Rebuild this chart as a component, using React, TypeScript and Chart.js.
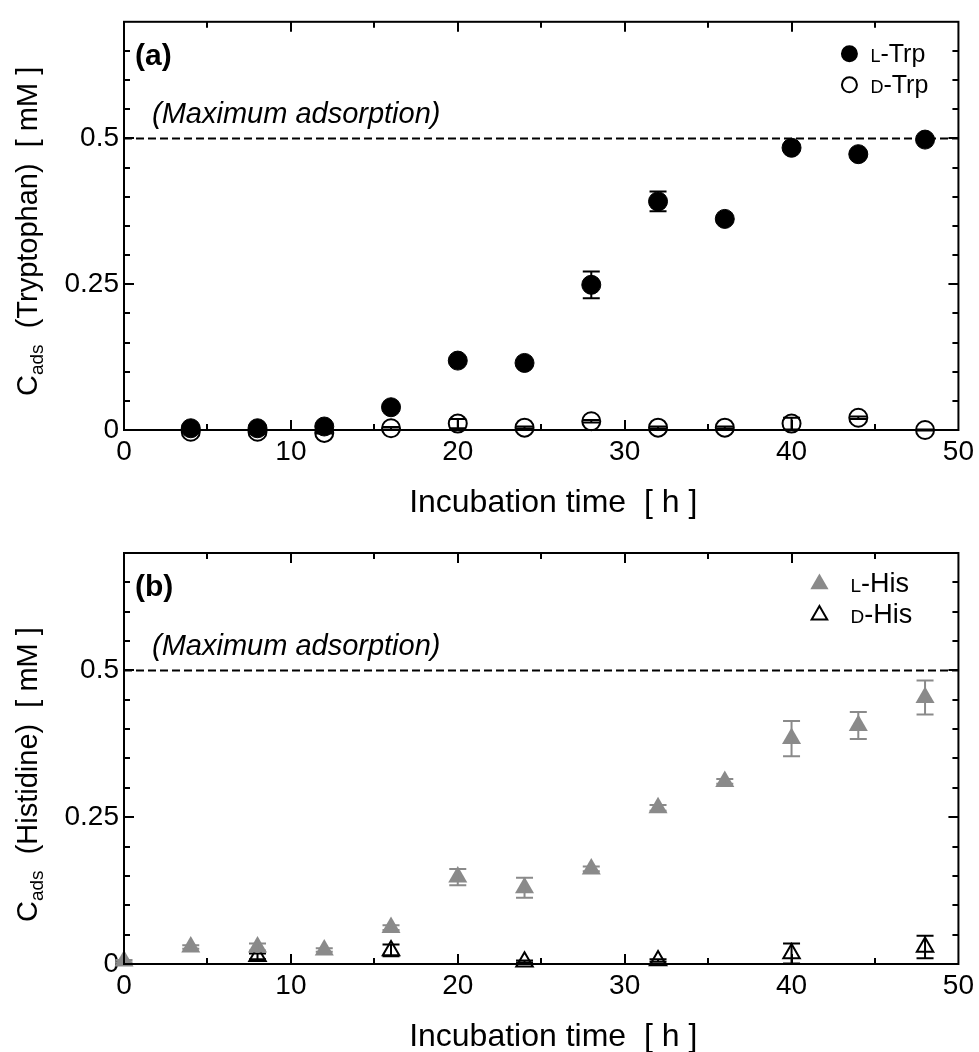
import React, { useEffect, useRef } from "react";
import { Chart, registerables } from "chart.js";

Chart.register(...registerables);

const FONT = '"Liberation Sans", Arial, Helvetica, sans-serif';
const W = 979;
const H = 526;

// ---------- Panel (a): Tryptophan ----------
const trpTime = [4, 8, 12, 16, 20, 24, 28, 32, 36, 40, 44, 48];
const lTrp = [0.003, 0.003, 0.006, 0.039, 0.119, 0.115, 0.249, 0.392, 0.362, 0.484, 0.473, 0.498];
const lTrpErr = [0.003, 0.003, 0.003, 0.004, 0.005, 0.005, 0.023, 0.017, 0.005, 0.006, 0.005, 0.004];
const dTrp = [-0.003, -0.003, -0.005, 0.003, 0.011, 0.004, 0.015, 0.004, 0.004, 0.011, 0.021, 0.0];
const dTrpErr = [0.001, 0.001, 0.001, 0.002, 0.008, 0.002, 0.002, 0.002, 0.002, 0.01, 0.002, 0.001];

// ---------- Panel (b): Histidine ----------
const lHisTime = [0, 4, 8, 12, 16, 20, 24, 28, 32, 36, 40, 44, 48];
const lHis = [0.005, 0.029, 0.029, 0.024, 0.062, 0.148, 0.13, 0.162, 0.266, 0.311, 0.384, 0.406, 0.454];
const lHisErr = [0.002, 0.003, 0.006, 0.003, 0.004, 0.014, 0.017, 0.004, 0.005, 0.004, 0.03, 0.023, 0.029];
const dHisTime = [8, 16, 24, 32, 40, 48];
const dHis = [0.013, 0.023, 0.004, 0.006, 0.018, 0.029];
const dHisErr = [0.005, 0.01, 0.002, 0.002, 0.017, 0.019];

// ---------- Axes ----------
const maxAdsorption = 0.5;
const xRange = [0, 50];
const yRange = [0, 0.7];
const xTickLabels = [0, 10, 20, 30, 40, 50];
const yTickLabels = [0, 0.25, 0.5];
const xMinorStep = 5;
const yMinorStep = 0.05;

const GREY = "#8a8a8a";

type LegendItem = {
  small: string;
  rest: string;
  shape: "circle" | "triangle";
  fill: string;
  stroke: string;
  r: number;
};

type PanelDef = {
  tag: string;
  compound: string;
  plotTop: number;
  plotBottom: number;
  datasets: any[];
  legend: LegendItem[];
  legendMarkerDx: number;
  legendTextDx: number;
  legendFont: number;
  legendY: number[];
};

function pts(xs: number[], ys: number[]) {
  return xs.map((x, i) => ({ x, y: ys[i] }));
}

function drawMarker(
  ctx: CanvasRenderingContext2D,
  shape: string,
  x: number,
  y: number,
  r: number,
  fill: string,
  stroke: string,
  lw: number
) {
  ctx.beginPath();
  if (shape === "circle") {
    ctx.arc(x, y, r, 0, Math.PI * 2);
  } else {
    let a = 0;
    ctx.moveTo(x + Math.sin(a) * r, y - Math.cos(a) * r);
    a += (2 * Math.PI) / 3;
    ctx.lineTo(x + Math.sin(a) * r, y - Math.cos(a) * r);
    a += (2 * Math.PI) / 3;
    ctx.lineTo(x + Math.sin(a) * r, y - Math.cos(a) * r);
    ctx.closePath();
  }
  if (fill) {
    ctx.fillStyle = fill;
    ctx.fill();
  }
  if (stroke && lw) {
    ctx.lineWidth = lw;
    ctx.strokeStyle = stroke;
    ctx.stroke();
  }
}

const panelPlugin = {
  id: "panel",
  afterDatasetDraw(chart: any, args: any) {
    const ds = chart.data.datasets[args.index];
    if (!ds.errors) return;
    const ctx: CanvasRenderingContext2D = chart.ctx;
    const xs = chart.scales.x;
    const ys = chart.scales.y;
    ctx.save();
    ctx.strokeStyle = ds.errorColor;
    ctx.lineWidth = 2;
    ds.data.forEach((p: any, j: number) => {
      const e = ds.errors[j];
      if (!e) return;
      const px = xs.getPixelForValue(p.x);
      const y1 = ys.getPixelForValue(p.y + e);
      const y2 = ys.getPixelForValue(p.y - e);
      ctx.beginPath();
      ctx.moveTo(px, y1);
      ctx.lineTo(px, y2);
      ctx.moveTo(px - 8.5, y1);
      ctx.lineTo(px + 8.5, y1);
      ctx.moveTo(px - 8.5, y2);
      ctx.lineTo(px + 8.5, y2);
      ctx.stroke();
    });
    ctx.restore();
  },
  afterDraw(chart: any, _args: any, opts: any) {
    const p: PanelDef = opts.panel;
    const ctx: CanvasRenderingContext2D = chart.ctx;
    const { left, right, top, bottom } = chart.chartArea;
    const xs = chart.scales.x;
    const ys = chart.scales.y;
    ctx.save();

    // frame
    ctx.strokeStyle = "#000";
    ctx.lineWidth = 2;
    ctx.strokeRect(left, top, right - left, bottom - top);

    // inward tick marks on all four sides
    ctx.beginPath();
    for (let v = xRange[0] + xMinorStep; v < xRange[1] - 1e-9; v += xMinorStep) {
      const px = Math.round(xs.getPixelForValue(v));
      const len = xTickLabels.includes(Math.round(v)) ? 10 : 6;
      ctx.moveTo(px, bottom);
      ctx.lineTo(px, bottom - len);
      ctx.moveTo(px, top);
      ctx.lineTo(px, top + len);
    }
    for (let k = 1; k * yMinorStep < yRange[1] - 1e-9; k++) {
      const v = k * yMinorStep;
      const py = Math.round(ys.getPixelForValue(v));
      const major = yTickLabels.some((t) => Math.abs(t - v) < 1e-9);
      const len = major ? 10 : 6;
      ctx.moveTo(left, py);
      ctx.lineTo(left + len, py);
      ctx.moveTo(right, py);
      ctx.lineTo(right - len, py);
    }
    ctx.stroke();

    ctx.fillStyle = "#000";
    // panel tag
    ctx.font = `bold 30px ${FONT}`;
    ctx.textAlign = "left";
    ctx.textBaseline = "alphabetic";
    ctx.fillText(p.tag, left + 11, top + 43);

    // max adsorption label
    ctx.font = `italic 29px ${FONT}`;
    ctx.fillText("(Maximum adsorption)", left + 28, ys.getPixelForValue(maxAdsorption) - 15);

    // legend
    p.legend.forEach((it, i) => {
      const cy = top + p.legendY[i];
      drawMarker(ctx, it.shape, right - p.legendMarkerDx, cy, it.r, it.fill, it.stroke, 2);
      ctx.fillStyle = "#000";
      let tx = right - p.legendTextDx;
      ctx.font = `${Math.round(p.legendFont * 0.7)}px ${FONT}`;
      ctx.fillText(it.small, tx, cy + 8);
      tx += ctx.measureText(it.small).width;
      ctx.font = `${p.legendFont}px ${FONT}`;
      ctx.fillText(it.rest, tx, cy + 8);
    });

    // x axis title
    ctx.font = `32px ${FONT}`;
    ctx.textAlign = "center";
    ctx.fillText("Incubation time  [ h ]", (left + right) / 2 + 12, bottom + 82);

    // y axis title (rotated, with subscript)
    ctx.translate(37, 396);
    ctx.rotate(-Math.PI / 2);
    ctx.textAlign = "left";
    let x = 0;
    ctx.font = `29px ${FONT}`;
    ctx.fillText("C", x, 0);
    x += ctx.measureText("C").width;
    ctx.font = `19px ${FONT}`;
    ctx.fillText("ads", x, 6);
    x += ctx.measureText("ads").width;
    ctx.font = `29px ${FONT}`;
    ctx.fillText(`  (${p.compound})  [ mM ]`, x, 0);
    ctx.restore();
  },
};

function buildConfig(p: PanelDef): any {
  return {
    type: "scatter",
    data: { datasets: p.datasets },
    plugins: [panelPlugin],
    options: {
      responsive: false,
      animation: false,
      events: [],
      layout: { padding: { left: 0, right: W - 960, top: p.plotTop, bottom: 0 } },
      plugins: {
        legend: { display: false },
        tooltip: { enabled: false },
        panel: { panel: p },
      },
      scales: {
        x: {
          type: "linear",
          position: "bottom",
          min: xRange[0],
          max: xRange[1],
          afterBuildTicks: (s: any) => {
            s.ticks = xTickLabels.map((v) => ({ value: v }));
          },
          afterFit: (s: any) => {
            s.height = H - p.plotBottom;
          },
          grid: { display: false, drawTicks: false },
          border: { display: false },
          ticks: {
            font: { family: FONT, size: 28 },
            color: "#000",
            padding: 5,
            maxRotation: 0,
            autoSkip: false,
          },
        },
        y: {
          type: "linear",
          position: "left",
          min: yRange[0],
          max: yRange[1],
          afterBuildTicks: (s: any) => {
            s.ticks = yTickLabels.map((v) => ({ value: v }));
          },
          afterFit: (s: any) => {
            s.width = 124;
          },
          grid: { display: false, drawTicks: false },
          border: { display: false },
          ticks: {
            font: { family: FONT, size: 28 },
            color: "#000",
            padding: 5,
            autoSkip: false,
            callback: (v: number) => String(v),
          },
        },
      },
    },
  };
}

const dashedLine = {
  data: [
    { x: xRange[0], y: maxAdsorption },
    { x: xRange[1], y: maxAdsorption },
  ],
  showLine: true,
  borderColor: "#000",
  borderWidth: 2,
  borderDash: [8, 4],
  pointRadius: 0,
};

const panelA: PanelDef = {
  tag: "(a)",
  compound: "Tryptophan",
  plotTop: 18,
  plotBottom: 430,
  legend: [
    { small: "L", rest: "-Trp", shape: "circle", fill: "#000", stroke: "#000", r: 7.5 },
    { small: "D", rest: "-Trp", shape: "circle", fill: "#fff", stroke: "#000", r: 7.5 },
  ],
  legendMarkerDx: 109,
  legendTextDx: 88,
  legendFont: 25,
  legendY: [32, 63],
  datasets: [
    {
      label: "L-Trp",
      data: pts(trpTime, lTrp),
      errors: lTrpErr,
      errorColor: "#000",
      pointStyle: "circle",
      pointRadius: 9.5,
      backgroundColor: "#000",
      borderColor: "#000",
      borderWidth: 1,
      clip: false,
    },
    {
      label: "D-Trp",
      data: pts(trpTime, dTrp),
      errors: dTrpErr,
      errorColor: "#000",
      pointStyle: "circle",
      pointRadius: 9,
      backgroundColor: "#fff",
      borderColor: "#000",
      borderWidth: 2,
      clip: false,
    },
    dashedLine,
  ],
};

const panelB: PanelDef = {
  tag: "(b)",
  compound: "Histidine",
  plotTop: 27,
  plotBottom: 438,
  legend: [
    { small: "L", rest: "-His", shape: "triangle", fill: GREY, stroke: "", r: 10.5 },
    { small: "D", rest: "-His", shape: "triangle", fill: "#fff", stroke: "#000", r: 9 },
  ],
  legendMarkerDx: 139,
  legendTextDx: 108,
  legendFont: 27,
  legendY: [31, 62],
  datasets: [
    {
      label: "L-His",
      data: pts(lHisTime, lHis),
      errors: lHisErr,
      errorColor: GREY,
      pointStyle: "triangle",
      pointRadius: 11,
      backgroundColor: GREY,
      borderColor: GREY,
      borderWidth: 0,
      clip: false,
    },
    {
      label: "D-His",
      data: pts(dHisTime, dHis),
      errors: dHisErr,
      errorColor: "#000",
      pointStyle: "triangle",
      pointRadius: 9.5,
      backgroundColor: "#fff",
      borderColor: "#000",
      borderWidth: 2,
      clip: false,
    },
    dashedLine,
  ],
};

function PanelChart({ def }: { def: PanelDef }) {
  const ref = useRef<HTMLCanvasElement | null>(null);
  useEffect(() => {
    if (!ref.current) return;
    const chart = new Chart(ref.current, buildConfig(def));
    return () => chart.destroy();
  }, [def]);
  return (
    <canvas
      ref={ref}
      width={W}
      height={H}
      style={{ display: "block", width: W, height: H }}
    />
  );
}

export default function App() {
  return (
    <div
      style={{
        position: "absolute",
        left: 0,
        top: 0,
        width: W,
        height: 1052,
        background: "#fff",
        overflow: "hidden",
      }}
    >
      <PanelChart def={panelA} />
      <PanelChart def={panelB} />
    </div>
  );
}
